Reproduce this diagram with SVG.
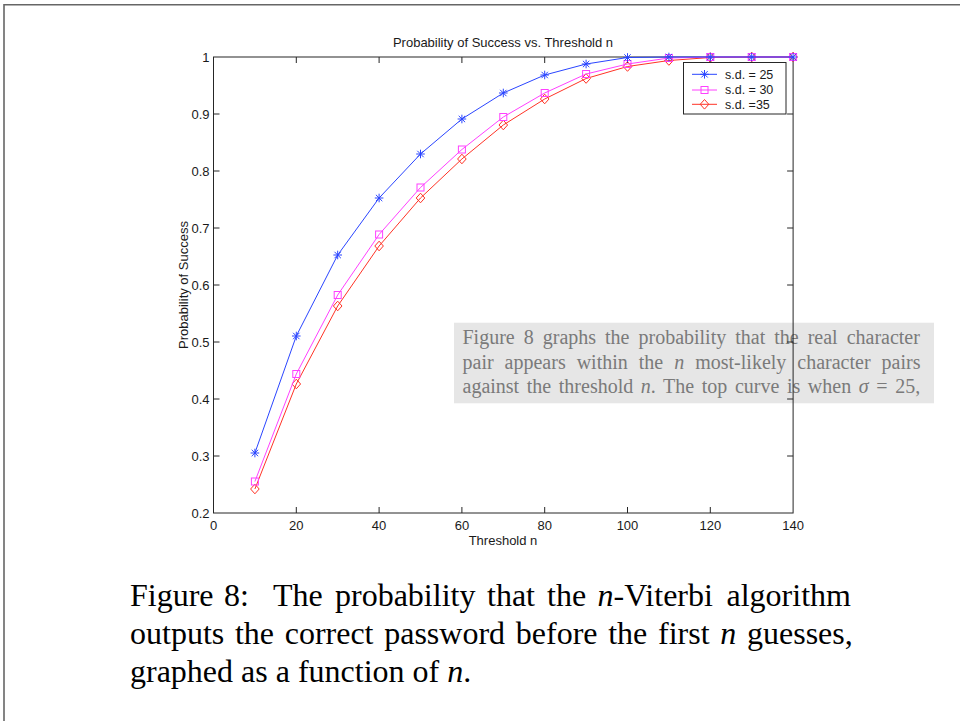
<svg xmlns="http://www.w3.org/2000/svg" width="960" height="721" viewBox="0 0 960 721">
<style>
.ax{fill:none;stroke:#262626;stroke-width:1}
.tk{stroke:#262626;stroke-width:1}
.lbl{font-family:"Liberation Sans",Arial,sans-serif;font-size:13px;fill:#1a1a1a}
.leg{font-family:"Liberation Sans",Arial,sans-serif;font-size:12.5px;fill:#1a1a1a}
.b{fill:none;stroke:#2a45ff;stroke-width:1}
.m{fill:none;stroke:#ff40ff;stroke-width:1}
.r{fill:none;stroke:#ff3326;stroke-width:1}
.note{font-family:"Liberation Serif","Times New Roman",serif;font-size:20px;fill:#7a7a7a}
.cap{font-family:"Liberation Serif","Times New Roman",serif;font-size:32px;fill:#000}
.it{font-style:italic}
</style>
<defs>
<marker id="mk-b" markerUnits="userSpaceOnUse" viewBox="-6 -6 12 12" markerWidth="12" markerHeight="12" refX="0" refY="0" overflow="visible">
<path d="M-4.3,0H4.3M0,-4.3V4.3M-3.2,-3.2L3.2,3.2M-3.2,3.2L3.2,-3.2" stroke="#2a45ff" stroke-width="1" fill="none"/>
</marker>
<marker id="mk-m" markerUnits="userSpaceOnUse" viewBox="-6 -6 12 12" markerWidth="12" markerHeight="12" refX="0" refY="0" overflow="visible">
<rect x="-3.5" y="-3.5" width="7" height="7" stroke="#ff40ff" stroke-width="1" fill="none"/>
</marker>
<marker id="mk-r" markerUnits="userSpaceOnUse" viewBox="-6 -6 12 12" markerWidth="12" markerHeight="12" refX="0" refY="0" overflow="visible">
<path d="M0,-4.8L4.3,0L0,4.8L-4.3,0Z" stroke="#ff3326" stroke-width="1" fill="none"/>
</marker>
</defs>
<rect width="960" height="721" fill="#fff"/>
<path d="M4,721V4.8H960" fill="none" stroke="#666" stroke-width="1.6"/>

<g id="chart">
<text class="lbl" x="503" y="47" text-anchor="middle">Probability of Success vs. Threshold n</text>
<text class="lbl" x="503" y="544.5" text-anchor="middle">Threshold n</text>
<text class="lbl" transform="translate(188,285) rotate(-90)" text-anchor="middle">Probability of Success</text>
<g class="lbl" text-anchor="end">
<text x="209.5" y="61.5">1</text>
<text x="209.5" y="118.5">0.9</text>
<text x="209.5" y="175.5">0.8</text>
<text x="209.5" y="232.5">0.7</text>
<text x="209.5" y="289.5">0.6</text>
<text x="209.5" y="346.5">0.5</text>
<text x="209.5" y="403.5">0.4</text>
<text x="209.5" y="460.5">0.3</text>
<text x="209.5" y="517.5">0.2</text>
</g>
<g class="lbl" text-anchor="middle">
<text x="213.5" y="529.5">0</text>
<text x="296.3" y="529.5">20</text>
<text x="379.1" y="529.5">40</text>
<text x="461.9" y="529.5">60</text>
<text x="544.7" y="529.5">80</text>
<text x="627.5" y="529.5">100</text>
<text x="710.3" y="529.5">120</text>
<text x="793.1" y="529.5">140</text>
</g>
</g>

<g id="note">
<rect x="454" y="322.7" width="480" height="80.6" fill="#e6e6e6"/>
<text class="note" x="462.5" y="344" style="word-spacing:4px">Figure 8 graphs the probability that the real character</text>
<text class="note" x="462.5" y="368.5" style="word-spacing:6px">pair appears within the <tspan class="it">n</tspan> most-likely character pairs</text>
<text class="note" x="462.5" y="393" style="word-spacing:2.6px">against the threshold <tspan class="it">n</tspan>. The top curve is when <tspan class="it">σ</tspan> = 25,</text>
</g>

<g id="axes">
<rect class="ax" x="213.5" y="57" width="579.6" height="456"/>
<path class="tk" d="M296.3,513v-6M379.1,513v-6M461.9,513v-6M544.7,513v-6M627.5,513v-6M710.3,513v-6M296.3,57v6M379.1,57v6M461.9,57v6M544.7,57v6M627.5,57v6M710.3,57v6M213.5,114h6M213.5,171h6M213.5,228h6M213.5,285h6M213.5,342h6M213.5,399h6M213.5,456h6M793.1,114h-6M793.1,171h-6M793.1,228h-6M793.1,285h-6M793.1,342h-6M793.1,399h-6M793.1,456h-6"/>
</g>

<g id="connectors">
<polyline id="curve-sd35" class="r" marker-start="url(#mk-r)" marker-mid="url(#mk-r)" marker-end="url(#mk-r)" points="254.9,489 296.3,384 337.7,306 379.1,246 420.5,198 461.9,159 503.3,125 544.7,99 586.1,78.5 627.5,66.5 668.9,60.5 710.3,57.5 751.7,57 793.1,57"/>
<polyline id="curve-sd30" class="m" marker-start="url(#mk-m)" marker-mid="url(#mk-m)" marker-end="url(#mk-m)" points="254.9,481.5 296.3,374 337.7,295 379.1,234.5 420.5,187.5 461.9,149.5 503.3,117 544.7,93 586.1,74 627.5,64 668.9,58 710.3,57 751.7,57 793.1,57"/>
<polyline id="curve-sd25" class="b" marker-start="url(#mk-b)" marker-mid="url(#mk-b)" marker-end="url(#mk-b)" points="254.9,453 296.3,336 337.7,255 379.1,198 420.5,154 461.9,119 503.3,93 544.7,75 586.1,64 627.5,57.5 668.9,57 710.3,57 751.7,57 793.1,57"/>
</g>

<g id="legend">
<rect x="683.5" y="62.5" width="102.5" height="51.5" fill="#fff" stroke="#262626" stroke-width="1"/>
<path class="b" d="M692,74.3H717"/>
<path class="b" d="M704.5,74.3h0.01" marker-end="url(#mk-b)"/>
<path class="m" d="M692,90H717"/>
<path class="m" d="M704.5,90h0.01" marker-end="url(#mk-m)"/>
<path class="r" d="M692,104.3H717"/>
<path class="r" d="M704.5,104.3h0.01" marker-end="url(#mk-r)"/>
<text class="leg" x="725" y="78.5">s.d. = 25</text>
<text class="leg" x="725" y="94">s.d. = 30</text>
<text class="leg" x="725" y="108.5">s.d. =35</text>
</g>

<g id="caption">
<text class="cap" y="606"><tspan x="130">Figure</tspan> <tspan x="224">8:</tspan> <tspan x="273">The</tspan> <tspan x="335">probability</tspan> <tspan x="487">that</tspan> <tspan x="547">the</tspan> <tspan x="597.5" class="it">n</tspan>-Viterbi <tspan x="726.5">algorithm</tspan></text>
<text class="cap" y="644"><tspan x="130">outputs</tspan> <tspan x="234.9">the</tspan> <tspan x="284.7">correct</tspan> <tspan x="384.2">password</tspan> <tspan x="515.8">before</tspan> <tspan x="608.2">the</tspan> <tspan x="658">first</tspan> <tspan x="720.3" class="it">n</tspan> <tspan x="747">guesses,</tspan></text>
<text class="cap" x="130" y="682">graphed as a function of <tspan class="it">n</tspan>.</text>
</g>
</svg>
